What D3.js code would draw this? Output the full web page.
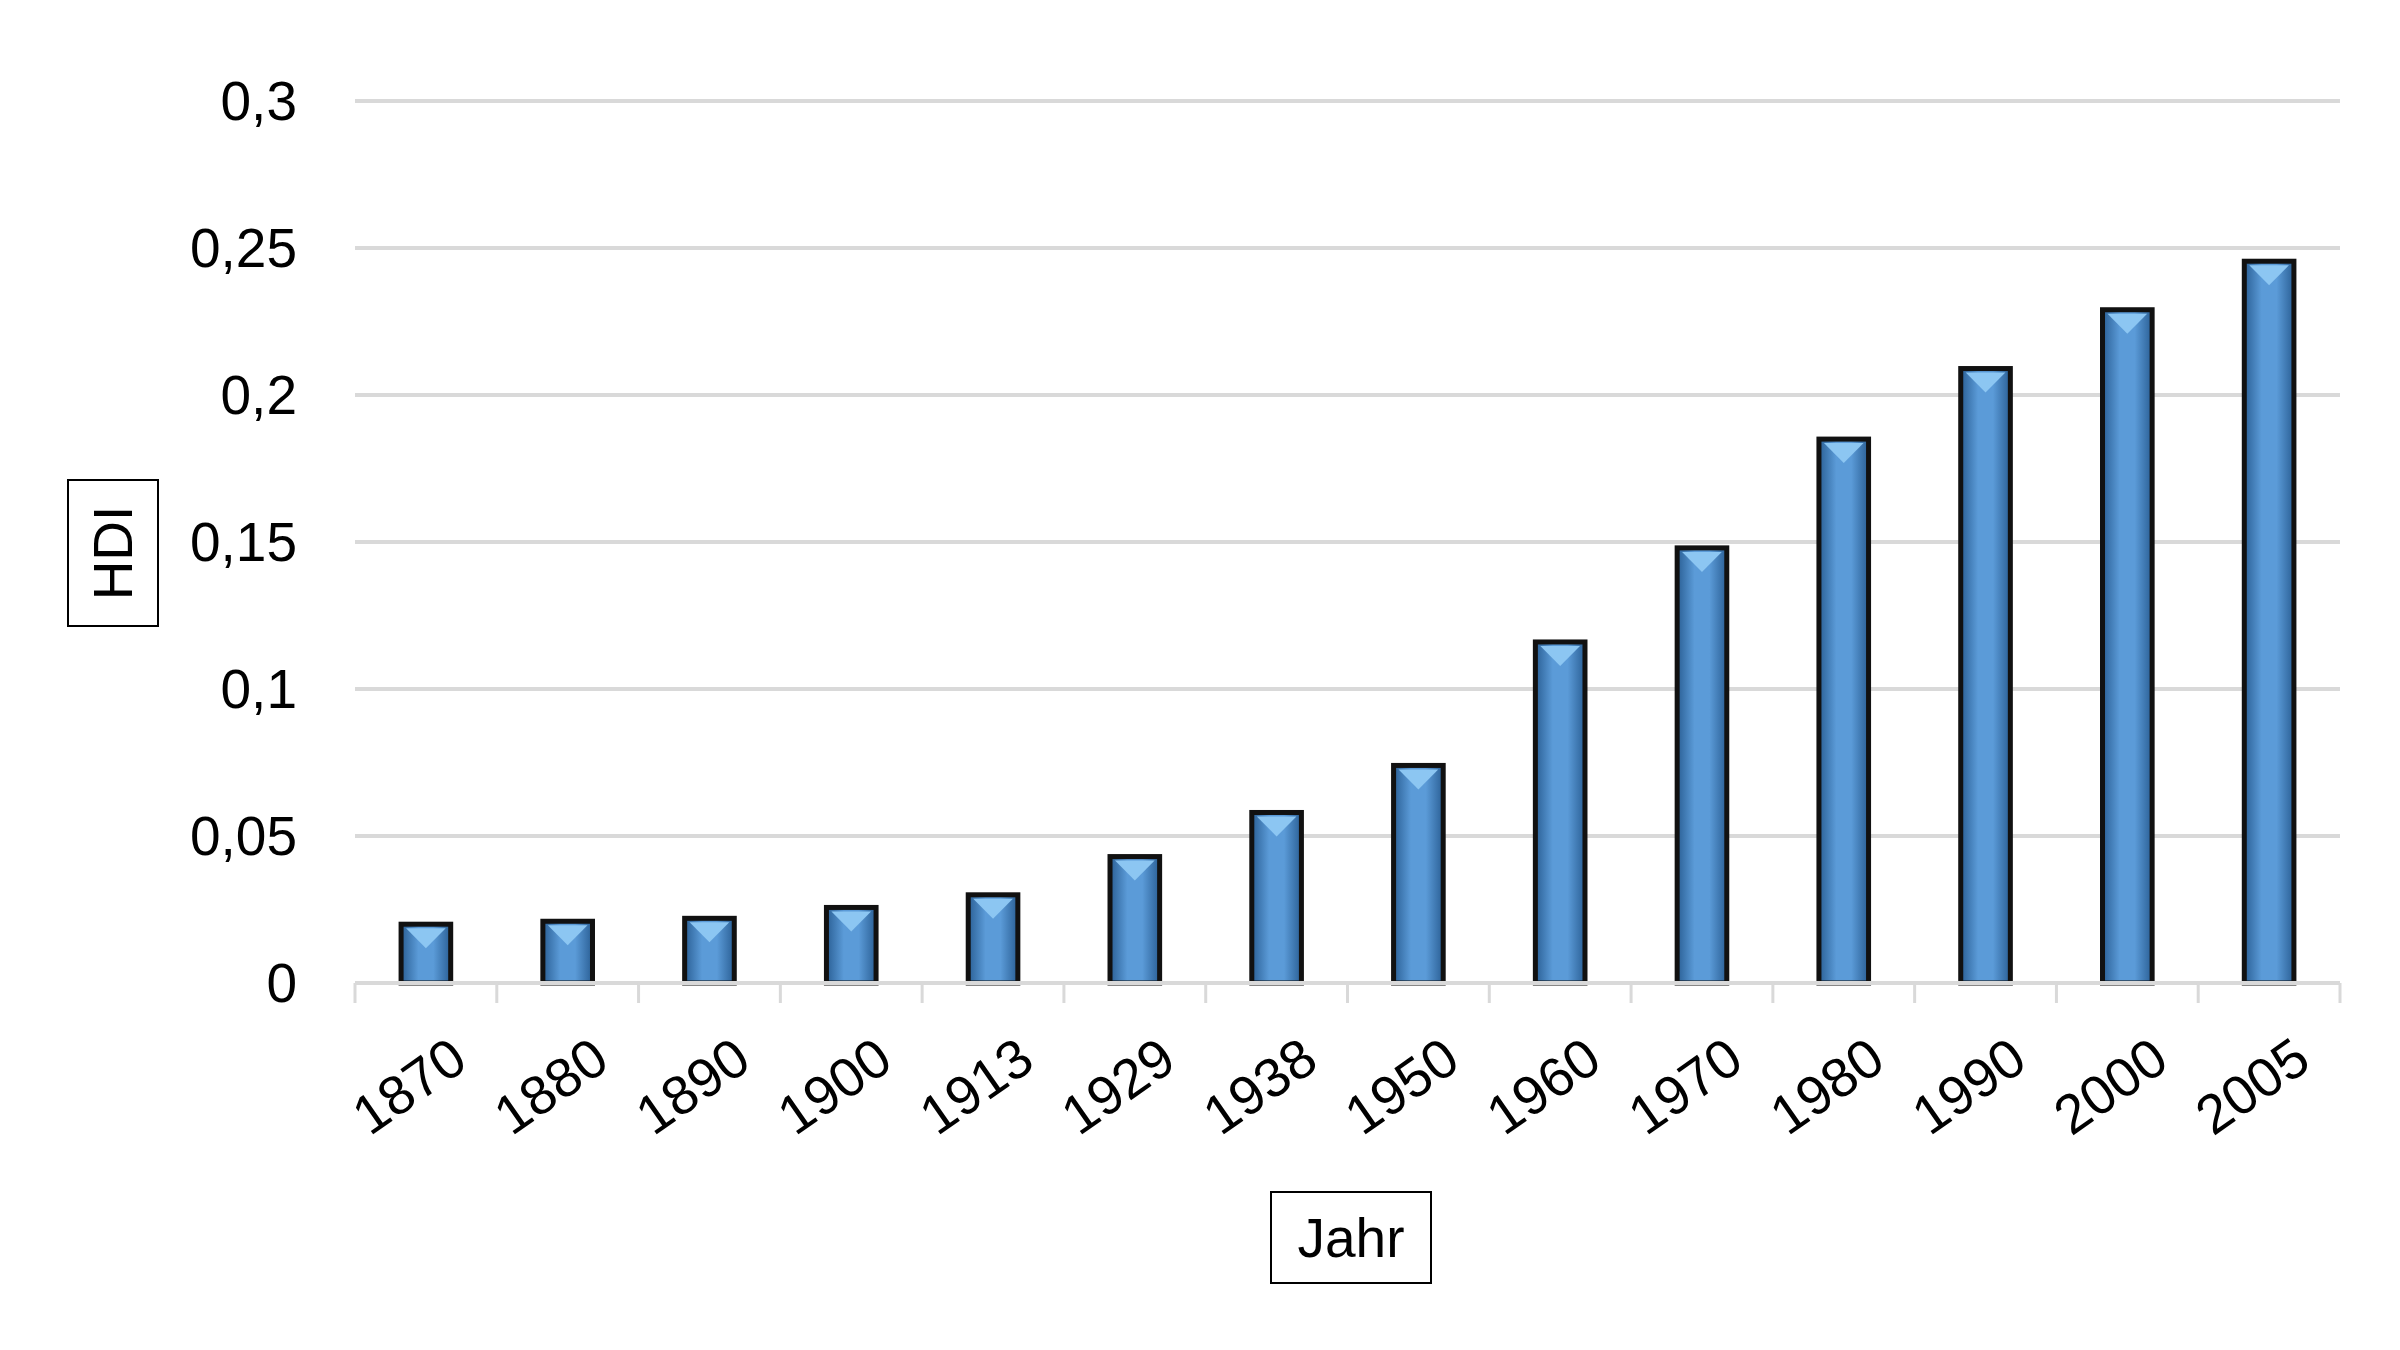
<!DOCTYPE html>
<html>
<head>
<meta charset="utf-8">
<script src="https://cdn.jsdelivr.net/npm/d3@7"></script>
<style>
  body { margin: 0; background: #fff; }
  text { font-family: "Liberation Sans", Arial, sans-serif; fill: #000; }
</style>
</head>
<body>
<svg id="chart"></svg>
<script>
// data
const years = ["1870", "1880", "1890", "1900", "1913", "1929", "1938", "1950", "1960", "1970", "1980", "1990", "2000", "2005"];
const hdi = [0.020, 0.021, 0.022, 0.0257, 0.030, 0.043, 0.058, 0.074, 0.116, 0.148, 0.185, 0.209, 0.229, 0.2455];
const yTicks = [0, 0.05, 0.1, 0.15, 0.2, 0.25, 0.3];

const W = 2400, H = 1350;
const margin = {top: 101, right: 60, bottom: 367, left: 355};
const width = W - margin.left - margin.right,
  height = H - margin.top - margin.bottom;

const svg = d3.select("#chart").attr("width", W).attr("height", H);

const defs = svg.append("defs");
const grad = defs.append("linearGradient").attr("id", "barGrad")
  .attr("x1", "0").attr("x2", "1").attr("y1", "0").attr("y2", "0");
grad.append("stop").attr("offset", "0%").attr("stop-color", "#2a5f95");
grad.append("stop").attr("offset", "35%").attr("stop-color", "#5b9bd8");
grad.append("stop").attr("offset", "65%").attr("stop-color", "#5b9bd8");
grad.append("stop").attr("offset", "100%").attr("stop-color", "#2a5f95");

const g = svg.append("g").attr("transform", `translate(${margin.left},${margin.top})`);

const x = d3.scaleBand().domain(years).range([0, width]).paddingInner(0.65).paddingOuter(0.325);
const y = d3.scaleLinear().domain([0, 0.3]).range([height, 0]);
const fmt = d => d3.format("")(d).replace(".", ",");

// gridlines
g.append("g").selectAll("line").data(yTicks.slice(1)).join("line")
  .attr("x1", 0).attr("x2", width)
  .attr("y1", d => y(d)).attr("y2", d => y(d))
  .attr("stroke", "#d9d9d9").attr("stroke-width", 4);

// y labels
g.append("g").selectAll("text").data(yTicks).join("text")
  .attr("x", -58).attr("y", d => y(d)).attr("dy", "0.35em")
  .attr("text-anchor", "end").attr("font-size", 55)
  .text(fmt);

// bars
const bars = g.append("g").selectAll("g").data(years).join("g");
bars.append("rect")
  .attr("x", d => x(d)).attr("width", x.bandwidth())
  .attr("y", (d, i) => y(hdi[i])).attr("height", (d, i) => height - y(hdi[i]))
  .attr("fill", "url(#barGrad)").attr("stroke", "#111").attr("stroke-width", 5);
bars.append("path")
  .attr("d", (d, i) => {
    const x0 = x(d) + 5, x1 = x(d) + x.bandwidth() - 5, t = y(hdi[i]) + 4;
    const m = (x0 + x1) / 2;
    return `M${x0},${t}L${x1},${t}L${m},${t + 20}Z`;
  })
  .attr("fill", "#8cc6f2");

// x axis
const ax = g.append("g").attr("transform", `translate(0,${height})`);
ax.append("line").attr("x1", 0).attr("x2", width).attr("stroke", "#d9d9d9").attr("stroke-width", 4);
const step = x.step();
ax.selectAll(".tk").data(d3.range(years.length + 1)).join("line")
  .attr("x1", i => x(years[0]) - x.padding() * step / 2 + i * step - (step * x.paddingInner() / 2 - step * x.paddingOuter()) * 0)
  .attr("x2", i => x(years[0]) - x.padding() * step / 2 + i * step)
  .attr("y1", 0).attr("y2", 20)
  .attr("stroke", "#d9d9d9").attr("stroke-width", 3);
ax.selectAll("text").data(years).join("text")
  .attr("transform", d => `translate(${x(d) + x.bandwidth() / 2 + 22},${52}) rotate(-35)`)
  .attr("text-anchor", "end").attr("dy", "0.7em").attr("font-size", 55)
  .text(d => d);

// axis titles in boxes
svg.append("rect").attr("x", 68).attr("y", 480).attr("width", 90).attr("height", 146)
  .attr("fill", "none").attr("stroke", "#000").attr("stroke-width", 2);
svg.append("text").attr("transform", "translate(113,553) rotate(-90)")
  .attr("text-anchor", "middle").attr("dy", "0.35em").attr("font-size", 55).text("HDI");
svg.append("rect").attr("x", 1271).attr("y", 1192).attr("width", 160).attr("height", 91)
  .attr("fill", "none").attr("stroke", "#000").attr("stroke-width", 2);
svg.append("text").attr("x", 1351).attr("y", 1238)
  .attr("text-anchor", "middle").attr("dy", "0.35em").attr("font-size", 55).text("Jahr");
</script>
</body>
</html>
